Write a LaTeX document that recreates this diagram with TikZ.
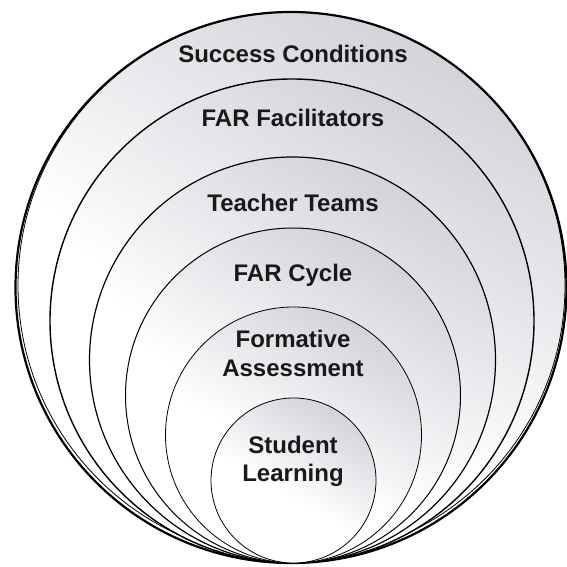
\documentclass[tikz,border=0pt]{standalone}
\usepackage{fontspec}
\setmainfont{Liberation Sans}
\definecolor{ringgray}{RGB}{210,212,218}
\definecolor{txt}{RGB}{25,25,25}
\pgfdeclareverticalshading{ringshade}{100bp}{color(0bp)=(white); color(25bp)=(white); color(45bp)=(white); color(75bp)=(ringgray); color(100bp)=(ringgray)}
\begin{document}
\begin{tikzpicture}[x=1pt,y=1pt,
  ring/.style={draw=black, shading=ringshade, shading angle=-30},
  lbl/.style={font=\bfseries\fontsize{24}{28.5}\selectfont, text=txt, align=center, inner sep=0pt}]
\useasboundingbox (0,0) rectangle (566,567);
% pixel y -> 567 - y ; bottom tangent at y=563 -> 4
\path[ring, line width=2.2pt] (291,279.5) circle (275.5);
\draw[line width=0.8pt] (291.5,281.5) circle (273.5);
\path[ring, line width=1.4pt] (292,246) circle (242);
\path[ring, line width=1.2pt] (292.5,207) circle (203);
\path[ring, line width=1.0pt] (293,171.5) circle (167.5);
\path[ring, line width=0.8pt] (293.5,132) circle (128);
\path[ring, line width=0.8pt] (293.5,86.5) circle (82.5);
\node[lbl] (sc) at (293,513.5) {Success Conditions};
\node[lbl] (ff) at (293,449) {FAR Facilitators};
\node[lbl] (tt) at (293,364) {Teacher Teams};
\node[lbl] (fc) at (293,292) {FAR Cycle};
\node[lbl] (fa) at (293,213.5) {Formative\\Assessment};
\node[lbl] (sl) at (293,105.5) {Student\\Learning};
\end{tikzpicture}
\end{document}
